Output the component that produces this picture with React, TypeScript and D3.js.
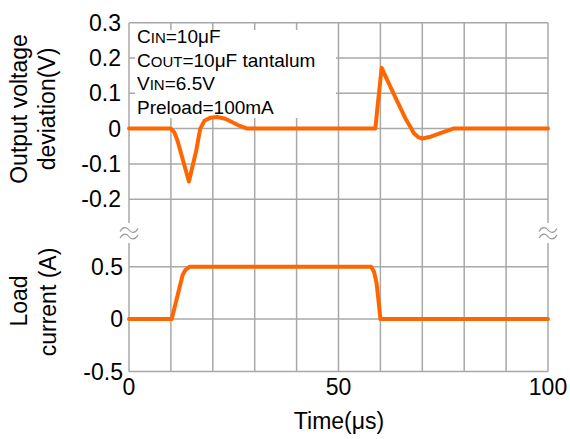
import React from "react";
import * as d3 from "d3";

const timeTicks = [0, 50, 100];
const gridTimes = [0, 10, 20, 30, 40, 50, 60, 70, 80, 90, 100];
const voltTicks = [0.3, 0.2, 0.1, 0, -0.1, -0.2];
const voltLabels = ["0.3", "0.2", "0.1", "0", "-0.1", "-0.2"];
const currTicks = [0.5, 0, -0.5];
const currLabels = ["0.5", "0", "-0.5"];

const voltT = [0, 10, 10.8, 11.6, 14.3, 16, 17, 18, 19.5, 21, 23, 26, 28.2, 58.8, 59.3, 60.3, 62, 64, 66, 67, 68, 69, 70, 72, 75, 77.4, 100];
const voltV = [0, 0, -0.01, -0.035, -0.15, -0.065, 0, 0.022, 0.031, 0.033, 0.028, 0.01, 0, 0, 0.06, 0.172, 0.128, 0.078, 0.028, 0.008, -0.013, -0.024, -0.028, -0.023, -0.01, 0, 0];

const currT = [0, 10.2, 12.8, 13.5, 14.5, 57.8, 58.5, 59.1, 59.7, 60, 100];
const currI = [0, 0, 0.42, 0.47, 0.5, 0.5, 0.45, 0.34, 0.12, 0, 0];

const W = 570, H = 439;
const FONT = "Arial, 'Liberation Sans', sans-serif";

export default function App() {
  const x = d3.scaleLinear().domain([0, 100]).range([129, 548]);
  const yV = d3.scaleLinear().domain([-0.2, 0.3]).range([199.2, 22.7]);
  const yI = d3.scaleLinear().domain([-0.5, 0.5]).range([371.5, 266.7]);

  const vData = voltT.map((t, i) => [t, voltV[i]] as [number, number]);
  const iData = currT.map((t, i) => [t, currI[i]] as [number, number]);

  const lineV = d3.line<[number, number]>().x(d => x(d[0])).y(d => yV(d[1]));
  const lineI = d3.line<[number, number]>().x(d => x(d[0])).y(d => yI(d[1]));

  const top = yV(0.3);
  const bottom = yI(-0.5);
  const gapTop = 223;
  const gapBot = 243;
  const gridColor = "#a8a8a8";

  const tilde = (cx: number, cy: number) =>
    `M${cx - 9},${cy + 1.5} C${cx - 6},${cy - 4} ${cx - 2},${cy - 3} ${cx},${cy} C${cx + 2},${cy + 3} ${cx + 6},${cy + 4} ${cx + 9},${cy - 1.5}`;

  return (
    <svg width={W} height={H} style={{ position: "absolute", left: 0, top: 0, background: "#fff" }} fontFamily={FONT}>
      {gridTimes.filter(t => t !== 0 && t !== 100).map(t => (
        <line key={"vg" + t} x1={x(t)} x2={x(t)} y1={top} y2={bottom} stroke={gridColor} strokeWidth={1.5} />
      ))}
      {[0, 100].map(t => (
        <g key={"b" + t}>
          <line x1={x(t)} x2={x(t)} y1={top} y2={gapTop} stroke={gridColor} strokeWidth={1.5} />
          <line x1={x(t)} x2={x(t)} y1={gapBot} y2={bottom} stroke={gridColor} strokeWidth={1.5} />
          <path d={tilde(x(t), 230)} fill="none" stroke="#9a9a9a" strokeWidth={1.2} />
          <path d={tilde(x(t), 236.5)} fill="none" stroke="#9a9a9a" strokeWidth={1.2} />
        </g>
      ))}
      {voltTicks.map(v => (
        <line key={"hv" + v} x1={x(0)} x2={x(100)} y1={yV(v)} y2={yV(v)} stroke={gridColor} strokeWidth={1.5} />
      ))}
      {currTicks.map(v => (
        <line key={"hi" + v} x1={x(0)} x2={x(100)} y1={yI(v)} y2={yI(v)} stroke={gridColor} strokeWidth={1.5} />
      ))}
      <rect x={135} y={30} width={201} height={88} fill="#fff" />
      <g fontSize={19} fill="#000">
        <text x={137} y={43}>C<tspan fontSize={15}>IN</tspan>=10μF</text>
        <text x={137} y={67}>C<tspan fontSize={15}>OUT</tspan>=10μF tantalum</text>
        <text x={137} y={90}>V<tspan fontSize={15}>IN</tspan>=6.5V</text>
        <text x={137} y={114}>Preload=100mA</text>
      </g>
      <path d={lineV(vData) || ""} fill="none" stroke="#ff6600" strokeWidth={4} strokeLinejoin="round" strokeLinecap="round" />
      <path d={lineI(iData) || ""} fill="none" stroke="#ff6600" strokeWidth={4} strokeLinejoin="round" strokeLinecap="round" />
      <g fontSize={23} fill="#000" textAnchor="end">
        {voltTicks.map((v, i) => (
          <text key={"tv" + v} x={121} y={yV(v)} dy="0.35em">{voltLabels[i]}</text>
        ))}
        {currTicks.map((v, i) => (
          <text key={"ti" + v} x={123} y={yI(v)} dy="0.35em">{currLabels[i]}</text>
        ))}
      </g>
      <g fontSize={23} fill="#000" textAnchor="middle">
        {timeTicks.map(t => (
          <text key={"tx" + t} x={x(t)} y={395}>{t}</text>
        ))}
      </g>
      <g fontSize={23} fill="#000" textAnchor="middle">
        <text transform="translate(26.5,109) rotate(-90)">Output voltage</text>
        <text transform="translate(55,109) rotate(-90)">deviation(V)</text>
        <text transform="translate(26.5,301) rotate(-90)">Load</text>
        <text transform="translate(56,302) rotate(-90)">current (A)</text>
        <text x={339} y={429}>Time(μs)</text>
      </g>
    </svg>
  );
}
